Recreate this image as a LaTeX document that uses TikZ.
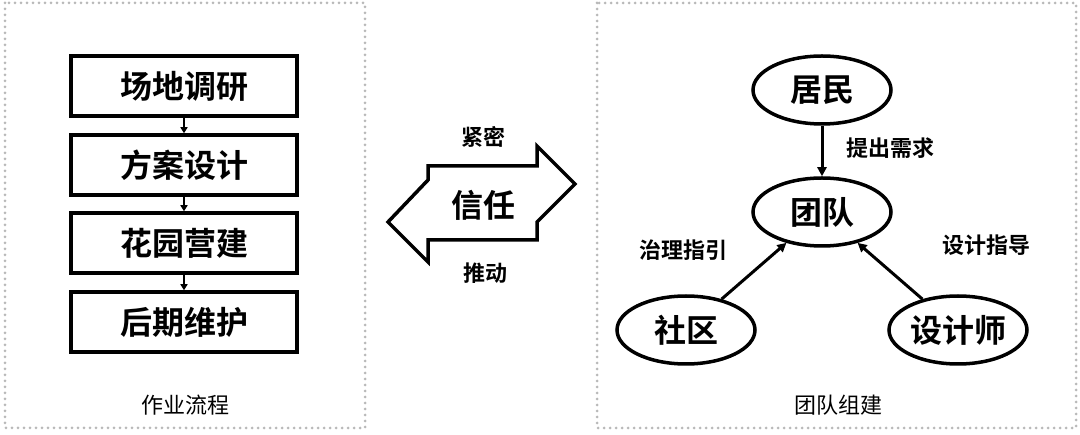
\documentclass[tikz,border=0pt]{standalone}
\usepackage{fontspec}
\setmainfont{Noto Sans CJK SC}
\newfontfamily\cjkb{Noto Sans CJK SC Bold}
\usetikzlibrary{arrows.meta,shapes.geometric}
\begin{document}
\begin{tikzpicture}[x=1pt,y=-1pt,
  frame/.style={draw=gray!55,line width=3pt,dash pattern=on 0pt off 6pt,line cap=round},
  stepbox/.style={draw,line width=3.5pt,minimum width=226pt,minimum height=60pt,inner sep=0pt,font=\cjkb\fontsize{32}{34}\selectfont},
  oval/.style={draw,ellipse,line width=3.5pt,minimum width=138pt,minimum height=68pt,inner sep=0pt,font=\cjkb\fontsize{32}{34}\selectfont},
  lbl/.style={font=\cjkb\fontsize{22}{24}\selectfont},
  captxt/.style={font=\fontsize{22}{24}\selectfont},
  arr/.style={-{Triangle[length=9pt,width=9pt]},line width=3pt},
  sarr/.style={-{Triangle[length=6pt,width=7pt]},line width=2pt}]
\useasboundingbox (0,0) rectangle (1080,435);
\fill[white] (0,0) rectangle (1080,435);
\draw[frame] (5,3) rectangle (365,428);
\draw[frame] (597,3) rectangle (1076,428);
\node[stepbox] (s1) at (184,86) {场地调研};
\node[stepbox] (s2) at (184,165) {方案设计};
\node[stepbox] (s3) at (184,243) {花园营建};
\node[stepbox] (s4) at (184,322) {后期维护};
\draw[sarr] (s1) -- (s2);
\draw[sarr] (s2) -- (s3);
\draw[sarr] (s3) -- (s4);
\node[captxt] (c1) at (185,405) {作业流程};
\draw[line width=3.5pt,line join=miter] (428,166) -- (537,166) -- (537,146) -- (575,184) -- (537,222) -- (537,240) -- (428,240) -- (428,262) -- (388,222) -- (428,180) -- cycle;
\node[lbl] (t1) at (483,137) {紧密};
\node[font=\cjkb\fontsize{32}{34}\selectfont] (t2) at (483,205) {信任};
\node[lbl] (t3) at (485,273) {推动};
\node[oval] (jm) at (822,90) {居民};
\node[oval] (td) at (822,212) {团队};
\node[oval] (sq) at (686,330) {社区};
\node[oval] (sj) at (958,330) {设计师};
\draw[arr] (jm) -- (td);
\draw[arr] (sq) -- (td);
\draw[arr] (sj) -- (td);
\node[lbl] (l1) at (890,148) {提出需求};
\node[lbl] (l2) at (683,250) {治理指引};
\node[lbl] (l3) at (986,245) {设计指导};
\node[captxt] (c2) at (838,405) {团队组建};
\end{tikzpicture}
\end{document}
